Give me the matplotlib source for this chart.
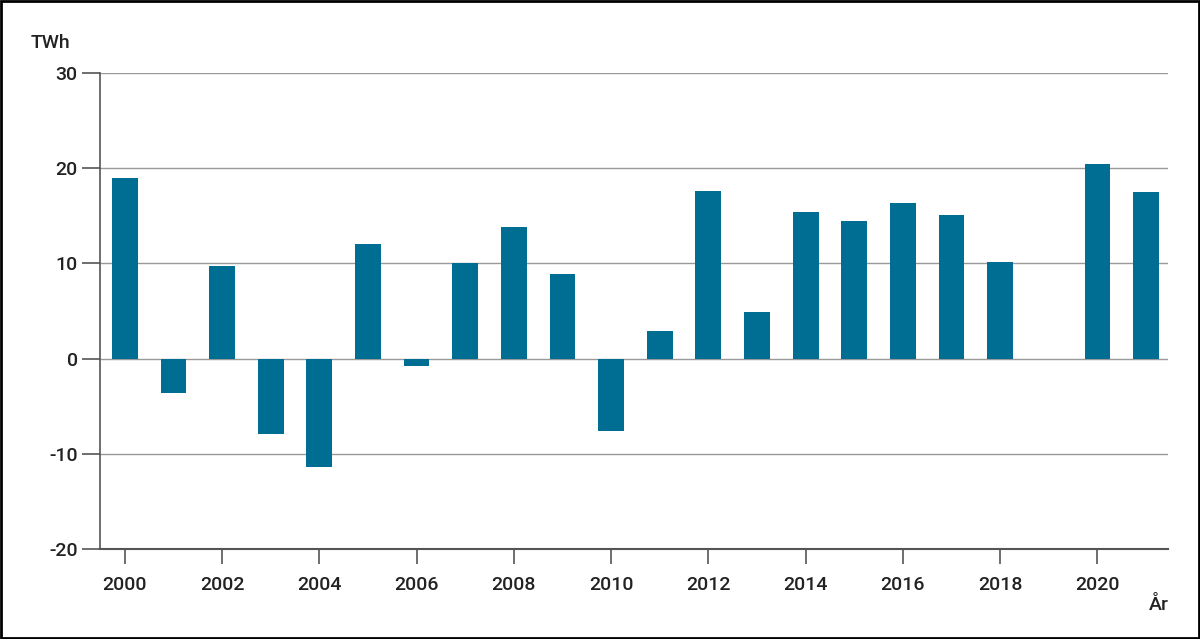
import numpy as np
import matplotlib.pyplot as plt
from matplotlib.patches import Rectangle

plt.rcParams["font.family"] = ["Roboto", "DejaVu Sans"]

years = list(range(2000, 2022))
values = [19.0, -3.6, 9.7, -7.9, -11.4, 12.0, -0.8, 10.0, 13.8, 8.9, -7.6,
          2.9, 17.6, 4.9, 15.4, 14.5, 16.3, 15.1, 10.1, 0.0, 20.4, 17.5]
y_ticks = [-20, -10, 0, 10, 20, 30]
x_tick_years = list(range(2000, 2021, 2))

fig = plt.figure(figsize=(12, 6.39), dpi=100)
ax = fig.add_axes([0.0833, 0.1408, 0.89, 0.745])

x = np.arange(len(years))
ax.bar(x, values, width=0.53, color="#006e93", zorder=3)

ax.set_xlim(-0.51, 21.45)
ax.set_ylim(-20, 30)

ax.set_yticks(y_ticks)
ax.set_yticklabels([str(v) for v in y_ticks])
ax.set_xticks([years.index(y) for y in x_tick_years])
ax.set_xticklabels([str(y) for y in x_tick_years])

# tick lengths in points: ~18 px and ~15 px at 100 dpi
ax.tick_params(axis="y", length=13, width=1.2, color="#555555", pad=3,
               labelsize=14, labelcolor="#222222")
ax.tick_params(axis="x", length=11, width=1.2, color="#555555", pad=8.5,
               labelsize=14, labelcolor="#222222")
for lab in ax.get_xticklabels() + ax.get_yticklabels():
    lab.set_fontweight("medium")

ax.grid(axis="y", color="#999999", linewidth=1, zorder=0)
for s in ["top", "right"]:
    ax.spines[s].set_visible(False)
ax.spines["left"].set_color("#555555")
ax.spines["left"].set_linewidth(1.2)
ax.spines["bottom"].set_color("#555555")
ax.spines["bottom"].set_linewidth(1.5)

fig.text(50 / 1200, 1 - 43 / 639, "TWh", fontsize=14, fontweight="medium",
         color="#222222", ha="center", va="center")
fig.text(1159 / 1200, 1 - 605 / 639, "År", fontsize=14, fontweight="medium",
         color="#222222", ha="center", va="center")

fig.patches.append(Rectangle((0.001, 0.0015), 0.998, 0.997, transform=fig.transFigure,
                             fill=False, edgecolor="black", linewidth=2))

plt.savefig("out.png", dpi=100)
